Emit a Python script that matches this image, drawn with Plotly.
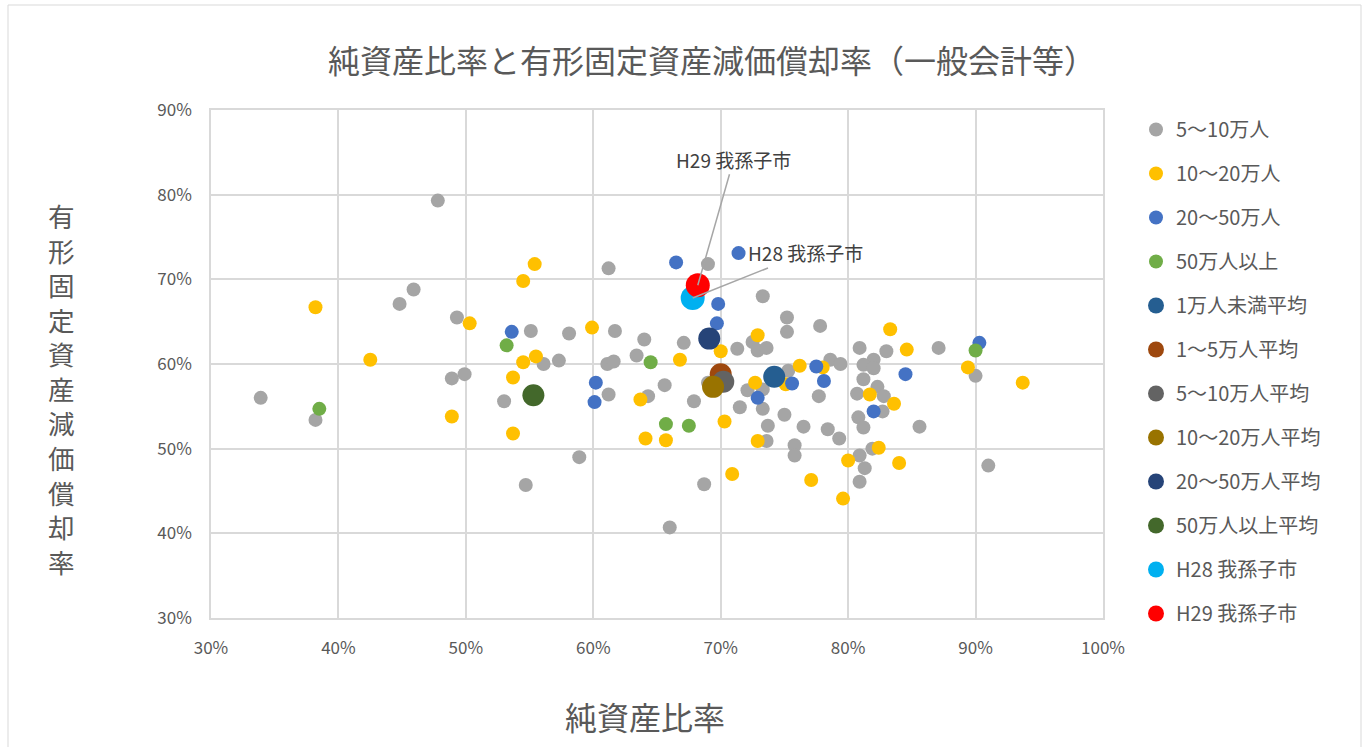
import plotly.graph_objects as go

# ---- data (純資産比率 %, 有形固定資産減価償却率 %) ----
gray_x = [33.9, 38.2, 47.8, 44.8, 45.9, 49.3, 48.9, 49.9, 53.0, 54.7, 55.1, 56.1, 57.3, 58.1, 58.9,
          61.2, 61.1, 61.6, 61.7, 61.2, 63.4, 64.0, 64.3, 65.6, 66.0, 67.1, 67.9, 69.0, 68.7, 69.0,
          71.3, 73.3, 72.5, 72.9, 73.6, 75.2, 75.2, 77.8, 80.9, 83.0, 87.1, 82.0, 81.2, 82.0, 78.6,
          79.4, 75.3, 81.2, 82.3, 80.7, 82.8, 82.7, 80.8, 81.2, 85.6, 81.9, 80.9, 81.3, 80.9, 77.7,
          75.0, 73.7, 76.5, 78.4, 79.3, 75.8, 75.8, 73.6, 71.5, 73.3, 72.1, 73.3, 90.0, 91.0]
gray_y = [56.0, 53.4, 79.3, 67.1, 68.8, 65.5, 58.3, 58.8, 55.6, 45.7, 63.9, 60.0, 60.4, 63.6, 49.0,
          71.3, 60.0, 60.3, 63.9, 56.4, 61.0, 62.9, 56.2, 57.5, 40.7, 62.5, 55.6, 71.8, 45.8, 57.8,
          61.8, 68.0, 62.6, 61.6, 61.9, 65.5, 63.8, 64.5, 61.9, 61.5, 61.9, 60.5, 59.9, 59.5, 60.5,
          60.0, 59.2, 58.2, 57.3, 56.5, 56.2, 54.4, 53.7, 52.5, 52.6, 50.0, 49.2, 47.7, 46.1, 56.2,
          54.0, 52.7, 52.6, 52.3, 51.2, 50.4, 49.2, 50.9, 54.9, 54.7, 56.9, 57.0, 58.6, 48.0]

yellow_x = [38.2, 42.5, 50.3, 48.9, 55.4, 54.5, 59.9, 54.5, 55.5, 53.7, 53.7, 63.7, 64.1, 65.7, 66.8,
            70.0, 70.3, 70.9, 72.9, 72.7, 75.1, 72.9, 76.2, 78.0, 77.1, 79.6, 80.0, 82.4, 84.0, 81.7,
            83.6, 83.3, 84.6, 89.4, 93.7]
yellow_y = [66.7, 60.5, 64.8, 53.8, 71.8, 69.8, 64.3, 60.2, 60.9, 58.4, 51.8, 55.8, 51.2, 51.0, 60.5,
            61.5, 53.2, 47.0, 63.4, 57.8, 57.6, 50.9, 59.8, 59.6, 46.3, 44.1, 48.6, 50.1, 48.3, 56.4,
            55.3, 64.1, 61.7, 59.6, 57.8]

blue_x = [53.6, 60.2, 60.1, 66.5, 71.4, 69.8, 69.7, 72.9, 75.6, 77.5, 78.1, 84.5, 82.0, 90.3]
blue_y = [63.8, 57.8, 55.5, 72.0, 73.1, 67.1, 64.8, 56.0, 57.7, 59.7, 58.0, 58.8, 54.4, 62.5]

green_x = [38.5, 53.2, 64.5, 65.7, 67.5, 90.0]
green_y = [54.7, 62.2, 60.2, 52.9, 52.7, 61.6]

avg_names = ["1万人未満平均", "1～5万人平均", "5～10万人平均", "10～20万人平均", "20～50万人平均", "50万人以上平均"]
avg_x = [74.2, 70.0, 70.2, 69.4, 69.1, 55.3]
avg_y = [58.5, 58.8, 57.9, 57.3, 63.0, 56.3]

city_names = ["H28 我孫子市", "H29 我孫子市"]
city_x = [67.8, 68.2]
city_y = [67.8, 69.3]

x_ticks = [30, 40, 50, 60, 70, 80, 90, 100]
y_ticks = [30, 40, 50, 60, 70, 80, 90]

# ---- styles ----
FONT = "Noto Sans CJK JP"
TXT = "#595959"
small_colors = ["#A5A5A5", "#FFC000", "#4472C4", "#70AD47"]
avg_colors = ["#255E91", "#9E480E", "#636363", "#997300", "#264478", "#43682B"]
city_colors = ["#00B0F0", "#FF0000"]

fig = go.Figure()
small_sets = [("5～10万人", gray_x, gray_y), ("10～20万人", yellow_x, yellow_y),
              ("20～50万人", blue_x, blue_y), ("50万人以上", green_x, green_y)]
for i, (nm, xs, ys) in enumerate(small_sets):
    fig.add_trace(go.Scatter(x=xs, y=ys, mode="markers", name=nm, legendgroup=nm,
                             marker=dict(size=14, color=small_colors[i], line=dict(width=0))))
for i, nm in enumerate(avg_names):
    fig.add_trace(go.Scatter(x=[avg_x[i]], y=[avg_y[i]], mode="markers", name=nm, legendgroup=nm,
                             marker=dict(size=22, color=avg_colors[i], line=dict(width=0))))
for i, nm in enumerate(city_names):
    fig.add_trace(go.Scatter(x=[city_x[i]], y=[city_y[i]], mode="markers", name=nm, legendgroup=nm,
                             marker=dict(size=24, color=city_colors[i], line=dict(width=0))))

annotations = [
    dict(x=city_x[1], y=city_y[1], xref="x", yref="y", text=city_names[1], showarrow=True,
         arrowhead=0, arrowwidth=1.5, arrowcolor="#A6A6A6", ax=36, ay=-126,
         font=dict(family=FONT, size=19, color="#404040")),
    dict(x=city_x[0], y=city_y[0], xref="x", yref="y", text=city_names[0], showarrow=True,
         arrowhead=0, arrowwidth=1.5, arrowcolor="#A6A6A6", ax=113, ay=-45,
         font=dict(family=FONT, size=19, color="#404040")),
]
ytitle = "有形固定資産減価償却率"
annotations.append(dict(x=(61 - 211) / 892, y=(618 - 388) / 508, xref="paper", yref="paper",
                        text="<br>".join(ytitle), showarrow=False, xanchor="center", yanchor="middle",
                        font=dict(family=FONT, size=26.6, color=TXT)))
annotations.append(dict(x=(645 - 211) / 892, y=(618 - 716) / 508, xref="paper", yref="paper",
                        text="純資産比率", showarrow=False, xanchor="center", yanchor="middle",
                        font=dict(family=FONT, size=32, color=TXT)))

fig.update_layout(
    width=1370, height=747,
    margin=dict(l=211, r=267, t=110, b=129, autoexpand=False),
    paper_bgcolor="white", plot_bgcolor="white",
    font=dict(family=FONT, color=TXT),
    title=dict(text="純資産比率と有形固定資産減価償却率（一般会計等）", x=712 / 1370, xanchor="center",
               y=1 - 62 / 747, yanchor="middle", yref="container",
               font=dict(family=FONT, size=32, color=TXT)),
    xaxis=dict(range=[30, 100], tickvals=x_ticks, ticktext=[f"{v}%" for v in x_ticks],
               showgrid=True, gridcolor="#D9D9D9", gridwidth=1.5, zeroline=False,
               showline=True, linecolor="#D9D9D9", linewidth=1.5, mirror=True,
               ticks="", tickfont=dict(family=FONT, size=17, color=TXT), automargin=False,
               ticklabelstandoff=14),
    yaxis=dict(range=[30, 90], tickvals=y_ticks, ticktext=[f"{v}%" for v in y_ticks],
               showgrid=True, gridcolor="#D9D9D9", gridwidth=1.5, zeroline=False,
               showline=True, linecolor="#D9D9D9", linewidth=1.5, mirror=True,
               ticks="", tickfont=dict(family=FONT, size=17, color=TXT), automargin=False,
               ticklabelstandoff=14),
    legend=dict(x=(1136 - 211) / 892, xanchor="left", y=(618 - 110) / 508, yanchor="top",
                font=dict(family=FONT, size=20, color=TXT), tracegroupgap=15,
                bgcolor="rgba(0,0,0,0)", maxheight=740),
    annotations=annotations,
    shapes=[dict(type="rect", xref="paper", yref="paper",
                 x0=(8 - 211) / 892, x1=(1361 - 211) / 892,
                 y0=(618 - 760) / 508, y1=(618 - 5) / 508,
                 line=dict(color="#D9D9D9", width=1), fillcolor="rgba(0,0,0,0)", layer="below")],
    showlegend=True,
)

fig.write_html("out.html", config={"displayModeBar": False},
               post_script="document.body.style.margin='0';")
